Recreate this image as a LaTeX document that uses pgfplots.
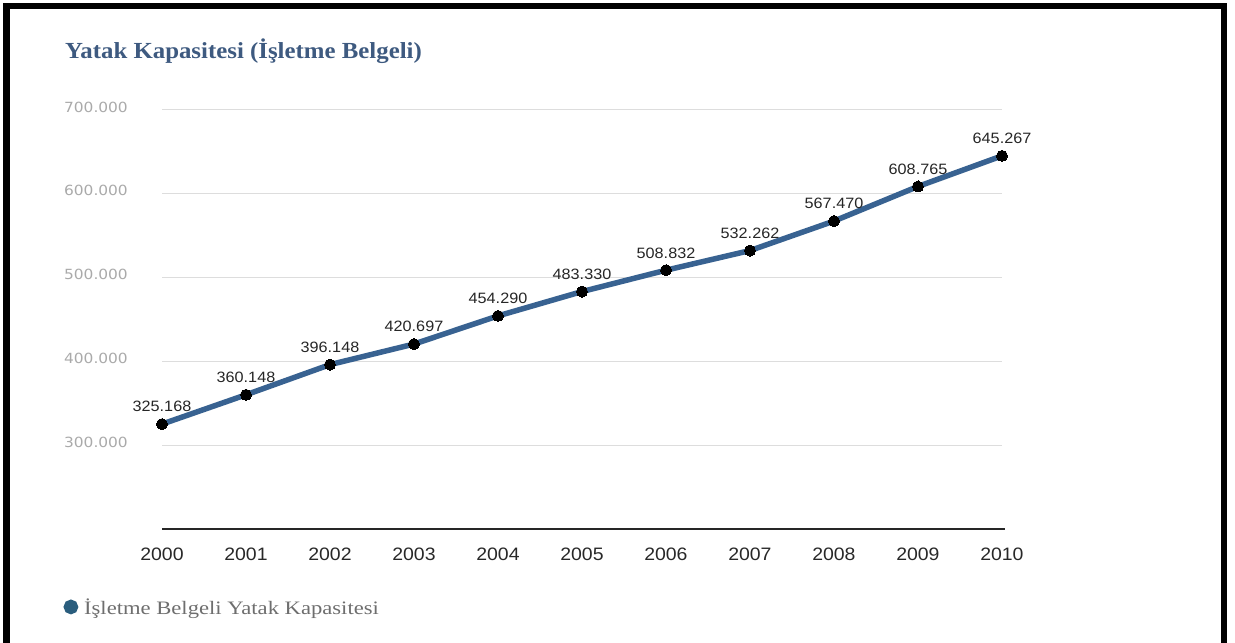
\documentclass[border=0pt]{standalone}
\usepackage{fontspec}
\setmainfont{Liberation Serif}
\newfontfamily\titlefont[FakeStretch=1.08]{Liberation Serif}
\newfontfamily\numfont[FakeStretch=1.08]{Liberation Sans}
\newfontfamily\yfont[FakeStretch=1.1]{DejaVu Sans}
\newfontfamily\legfont[FakeStretch=1.19]{Liberation Serif}
\usepackage{pgfplots}
\pgfplotsset{compat=1.18}

\definecolor{linecol}{RGB}{56,98,145}
\definecolor{titlecol}{RGB}{62,90,128}
\definecolor{gridcol}{RGB}{221,221,221}
\definecolor{ytickcol}{RGB}{170,170,170}
\definecolor{xtickcol}{RGB}{40,40,40}
\definecolor{legtext}{RGB}{110,110,110}
\definecolor{legdot}{RGB}{42,93,125}

\begin{document}
\begin{tikzpicture}
% page and frame
\fill[white] (0,0) rectangle (1235bp,643bp);
\fill[black] (3bp,634bp) rectangle (1227bp,640bp);
\fill[black] (3bp,0bp) rectangle (10bp,640bp);
\fill[black] (1221bp,0bp) rectangle (1227bp,640bp);

\node[anchor=base west, inner sep=0pt, text=titlecol,
      font=\titlefont\fontsize{23bp}{26bp}\selectfont\bfseries]
  at (65bp,584bp) {Yatak Kapasitesi (İşletme Belgeli)};

\begin{axis}[
  at={(162bp,114bp)}, anchor=south west,
  scale only axis, width=840bp, height=419bp,
  xmin=2000, xmax=2010, ymin=200000, ymax=700000,
  axis x line=bottom, axis y line=left,
  x axis line style={-, draw=black!85, line width=1.6bp, shorten >=-3bp},
  y axis line style={draw=none},
  major tick length=0pt,
  scaled y ticks=false,
  xtick={2000,...,2010},
  ytick={300000,400000,500000,600000,700000},
  yticklabels={300.000,400.000,500.000,600.000,700.000},
  ymajorgrids, grid style={gridcol, line width=1bp},
  /pgf/number format/assume math mode=true,
  x tick label style={/pgf/number format/1000 sep=,
    font=\numfont\fontsize{18bp}{20bp}\selectfont, text=xtickcol,
    inner sep=0pt, anchor=north, yshift=-19bp},
  y tick label style={font=\yfont\fontsize{14bp}{16bp}\selectfont,
    text=ytickcol, inner sep=0pt, anchor=east, xshift=-34bp, yshift=3bp},
  clip=false,
  legend image code/.code={\fill[legdot] (4.5bp,0bp) circle (4.5bp);},
  legend style={at={(axis description cs:-0.1173,-0.186)}, anchor=west,
    draw=none, fill=none, inner sep=0pt, column sep=4bp,
    font=\legfont\fontsize{19bp}{21bp}\selectfont, text=legtext},
]
\addplot[linecol, line width=5.5bp, mark=*, mark size=5.5bp,
  mark options={fill=black, draw=black, line width=0pt},
  nodes near coords={\pgfmathprintnumber[fixed,precision=0,1000 sep={.}]{\pgfplotspointmeta}},
  every node near coord/.style={anchor=south, inner sep=0pt, yshift=12bp,
    font=\numfont\fontsize{15bp}{17bp}\selectfont, text=black!85}]
  coordinates {
    (2000,325168) (2001,360148) (2002,396148) (2003,420697)
    (2004,454290) (2005,483330) (2006,508832) (2007,532262)
    (2008,567470) (2009,608765) (2010,645267)
  };
\addlegendentry{İşletme Belgeli Yatak Kapasitesi}
\end{axis}
\end{tikzpicture}
\end{document}
